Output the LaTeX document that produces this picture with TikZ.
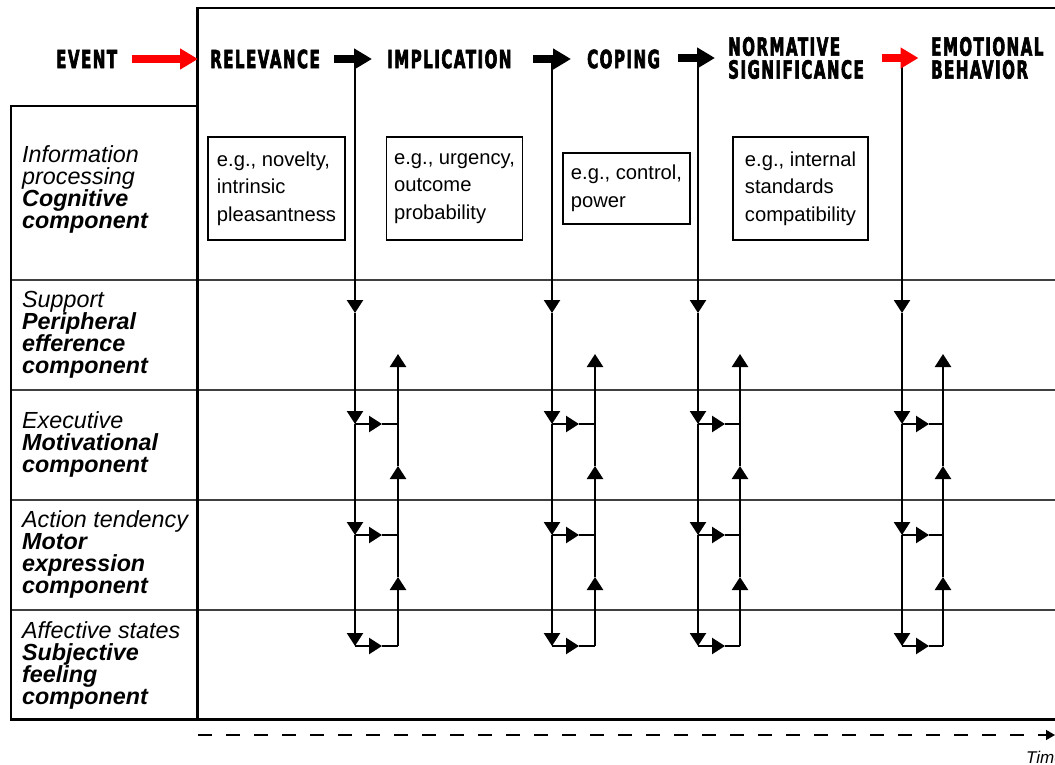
\documentclass[tikz,border=0pt]{standalone}
\usepackage{fontspec}
\setmainfont{Liberation Sans}
\newfontfamily\headfont[FakeStretch=0.6,LetterSpace=6,FakeBold=2.5]{DejaVu Sans}
\usepackage{tikz}
\usetikzlibrary{arrows.meta}
\usetikzlibrary{positioning}

\begin{document}
\begin{tikzpicture}[x=1pt,y=-1pt,>={Triangle[width=16pt,length=13pt]},
    head/.style={font=\headfont\bfseries\fontsize{25}{23}\selectfont,inner sep=0pt,anchor=west,align=left},
    red arrow/.style={line width=7.4pt,red,-{Triangle[width=20pt,length=18pt]}},
    black arrow/.style={line width=7.4pt,black,-{Triangle[width=20pt,length=18pt]}},
    flow/.style={line width=2.4pt,->},
    flow line/.style={line width=2.4pt},
    example box/.style={draw,line width=1.7pt,inner sep=4pt,align=left,font=\fontsize{20.2}{27.5}\selectfont},
    row label/.style={anchor=west,inner sep=0pt,align=left,font=\fontsize{23.3}{22}\selectfont},
    frame/.style={line width=2.5pt},
    row line/.style={line width=1.2pt,black!75}]
    \useasboundingbox (0,0) rectangle (1055,765);
    \clip (0,0) rectangle (1055,765);

    % rows
    \foreach \y in {280,390,500,610}
      \draw[row line] (10,\y) -- (1070,\y);
    \draw[frame] (197.5,719.5) -- (197.5,8) -- (1070,8);
    \draw[frame] (197.5,106) -- (11,106) -- (11,719.5) -- (1070,719.5);

    % component labels
    \node[row label] (cog) at (22,189.6) {\textit{Information}\\\textit{processing}\\\textbf{\textit{Cognitive}}\\\textbf{\textit{component}}};
    \node[row label] (per) at (22,334.6) {\textit{Support}\\\textbf{\textit{Peripheral}}\\\textbf{\textit{efference}}\\\textbf{\textit{component}}};
    \node[row label] (mot) at (22,444.6) {\textit{Executive}\\\textbf{\textit{Motivational}}\\\textbf{\textit{component}}};
    \node[row label] (motor) at (22,554.6) {\textit{Action tendency}\\\textbf{\textit{Motor}}\\\textbf{\textit{expression}}\\\textbf{\textit{component}}};
    \node[row label] (feel) at (22,665.6) {\textit{Affective states}\\\textbf{\textit{Subjective}}\\\textbf{\textit{feeling}}\\\textbf{\textit{component}}};

    % stages
    \node[head] (event) at (56,59) {EVENT};
    \node[head] (rel) at (210,59) {RELEVANCE};
    \node[head] (impl) at (387,59) {IMPLICATION};
    \node[head] (cop) at (587,59) {COPING};
    \node[head] (norm) at (728,58) {NORMATIVE\\SIGNIFICANCE};
    \node[head] (emo) at (931,58) {EMOTIONAL\\BEHAVIOR};

    \coordinate (ev-a) at (132,59);
    \coordinate (rel-a) at (334,59);
    \coordinate (impl-a) at (533,59);
    \coordinate (cop-a) at (678,58);
    \coordinate (norm-a) at (882,58);

    % checks
    \node[example box,minimum width=137pt,minimum height=103pt] (relex) at (276.5,188.5) {e.g., novelty,\\intrinsic\\pleasantness};
    \node[example box,minimum width=136pt,minimum height=103pt] (implex) at (454.5,188.5) {e.g., urgency,\\outcome\\probability};
    \node[example box,minimum width=127pt,minimum height=71pt] (copex) at (626.5,188.5) {e.g., control,\\power};
    \node[example box,minimum width=135pt,minimum height=103pt] (normex) at (800.5,188.5) {e.g., internal\\standards\\compatibility};

    % component flows
    \foreach \m/\s in {355/398,552/595,698/740,902/943} {
      \draw[flow line] (\m,59) -- (\m,300);
      \draw[flow] (\m,300) -- (\m,313);
      \draw[flow] (\m,313) -- (\m,424);
      \draw[flow] (\m,424) -- (\m,535);
      \draw[flow] (\m,535) -- (\m,646);
      \foreach \y in {424,535,646} {
        \draw[flow] (\m,\y) -- (\m+27,\y);
        \draw[flow line] (\m+27,\y) -- (\s,\y);
      }
      \draw[flow] (\s,646) -- (\s,577);
      \draw[flow] (\s,577) -- (\s,466);
      \draw[flow] (\s,466) -- (\s,354);
    }

    \draw[red arrow,shorten >=12pt] (ev-a) -- (rel);
    \draw[black arrow,shorten >=15pt] (rel-a) -- (impl);
    \draw[black arrow,shorten >=16pt] (impl-a) -- (cop);
    \draw[black arrow,shorten >=13pt] (cop-a) -- (norm);
    \draw[red arrow,shorten >=12.5pt] (norm-a) -- (emo);

    % time
    \coordinate (t0) at (198,735);
    \coordinate (t1) at (1055,735);
    \node[anchor=base west,inner sep=0pt,font=\itshape\fontsize{17}{20}\selectfont] (time) at (1026,763) {Time};
    \draw[line width=1.5pt,dash pattern=on 14pt off 14pt,-{Triangle[width=10pt,length=9pt]}] (t0) -- (t1);
\end{tikzpicture}
\end{document}
